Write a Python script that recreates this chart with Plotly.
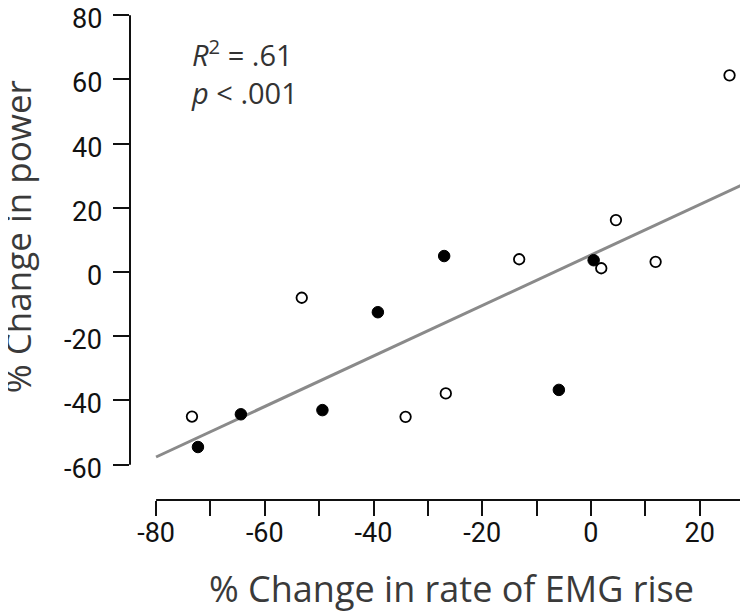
import plotly.graph_objects as go

# Open circles
open_x = [-73.4, -53.2, -34.1, -26.7, -13.2, 1.9, 4.6, 11.9, 25.5]
open_y = [-45.0, -8.0, -45.1, -37.8, 4.0, 1.2, 16.2, 3.2, 61.3]
# Filled circles
filled_x = [-72.3, -64.4, -49.4, -39.2, -27.0, -5.9, 0.5]
filled_y = [-54.5, -44.3, -43.0, -12.5, 5.0, -36.7, 3.7]
# Regression line endpoints
fit_x = [-80, 30]
fit_y = [-57.6, 28.9]

x_tickvals = [-80, -70, -60, -50, -40, -30, -20, -10, 0, 10, 20, 30]
x_ticktext = ["-80", "", "-60", "", "-40", "", "-20", "", "0", "", "20", ""]
y_tickvals = [-60, -40, -20, 0, 20, 40, 60, 80]
y_ticktext = ["-60", "-40", "-20", "0", "20", "40", "60", "80"]

tick_font = dict(family="Liberation Sans Narrow, Roboto, sans-serif",
                 size=27, color="#111111")
title_color = "#3a3a3a"

fig = go.Figure()
fig.add_trace(go.Scatter(x=fit_x, y=fit_y, mode="lines",
                         line=dict(color="#8a8a8a", width=3), cliponaxis=False,
                         showlegend=False, hoverinfo="skip"))
fig.add_trace(go.Scatter(x=open_x, y=open_y, mode="markers", cliponaxis=False,
                         marker=dict(symbol="circle", size=10.5, color="white",
                                     line=dict(color="black", width=1.8)),
                         showlegend=False))
fig.add_trace(go.Scatter(x=filled_x, y=filled_y, mode="markers", cliponaxis=False,
                         marker=dict(symbol="circle", size=11.5, color="black",
                                     line=dict(color="black", width=1)),
                         showlegend=False))

# offset axis lines
fig.add_shape(type="line", xref="paper", yref="y", x0=0, x1=0, y0=-60, y1=80,
              line=dict(color="#111111", width=2))
fig.add_shape(type="line", xref="x", yref="paper", x0=-80, x1=30, y0=0, y1=0,
              line=dict(color="#111111", width=2))

# y tick labels (slightly below their ticks, as in the original)
for v, t in zip(y_tickvals, y_ticktext):
    fig.add_annotation(xref="paper", yref="y", x=-0.043, y=v, text=t,
                       showarrow=False, xanchor="right", yanchor="middle",
                       yshift=-4, borderpad=0, font=tick_font)

fig.add_annotation(xref="paper", yref="paper", x=-0.18, y=0.542,
                   text="% Change in power", textangle=-90, showarrow=False,
                   font=dict(family="Open Sans, sans-serif", size=35, color=title_color),
                   xanchor="center", yanchor="middle", borderpad=0)
fig.add_annotation(xref="paper", yref="paper", x=0.515, y=-0.182,
                   text="% Change in rate of EMG rise", showarrow=False,
                   font=dict(family="Open Sans, sans-serif", size=36, color=title_color),
                   xanchor="center", yanchor="middle", borderpad=0)
fig.add_annotation(xref="x", yref="y", x=-74.0, y=75.5,
                   text="<i>R</i><sup>2</sup> = .61<br><i>p</i> < .001",
                   showarrow=False, align="left", xanchor="left", yanchor="top",
                   font=dict(family="Open Sans, sans-serif", size=29, color="#333333"))

fig.update_layout(
    width=748, height=611,
    margin=dict(l=122, r=2, t=6, b=119, autoexpand=False),
    paper_bgcolor="white", plot_bgcolor="white",
    xaxis=dict(range=[-84.8, 30], tickvals=x_tickvals, ticktext=x_ticktext,
               ticks="outside", ticklen=15, tickwidth=2, tickcolor="#111111",
               showgrid=False, zeroline=False, showline=False, automargin=False,
               tickfont=tick_font, ticklabelstandoff=-6, ticklabeloverflow="allow"),
    yaxis=dict(range=[-71.0, 80.4], tickvals=y_tickvals, showticklabels=False,
               ticks="outside", ticklen=16, tickwidth=2, tickcolor="#111111",
               showgrid=False, zeroline=False, showline=False, automargin=False),
)

fig.write_html("out.html")
